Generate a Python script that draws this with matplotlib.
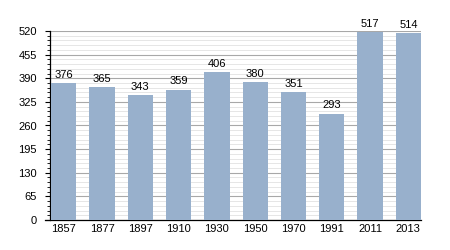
import matplotlib.pyplot as plt
import numpy as np
from matplotlib.ticker import MultipleLocator

plt.rcParams['font.family'] = ['Liberation Sans', 'DejaVu Sans']

years = ['1857', '1877', '1897', '1910', '1930', '1950', '1970', '1991', '2011', '2013']
population = [376, 365, 343, 359, 406, 380, 351, 293, 517, 514]

fig = plt.figure(figsize=(4.5, 2.5), dpi=100)
ax = fig.add_axes([50 / 450, 30 / 250, 371 / 450, 189 / 250])

x = np.arange(len(years))
bar_w = 0.66
ax.bar(x, population, width=bar_w, align='edge', color='#98b0cc', zorder=3)
for xi, v in zip(x, population):
    ax.text(xi + bar_w / 2, v + 9, str(v), ha='center', va='bottom', fontsize=8, zorder=4)

xmin, xmax = -0.03, len(years) - 1 + bar_w
ax.set_xlim(xmin, xmax)
ax.set_ylim(0, 520)
ax.set_xticks(x + bar_w / 2)
ax.set_xticklabels(years, fontsize=8)
ax.yaxis.set_major_locator(MultipleLocator(65))
ax.yaxis.set_minor_locator(MultipleLocator(13))
ax.tick_params(axis='y', labelsize=8, length=3.5, width=0.8, pad=6)
ax.tick_params(axis='y', which='minor', length=2, width=0.6)
ax.tick_params(axis='x', length=0, pad=3)
ax.grid(axis='y', which='major', color='#a8a8a8', lw=0.8, zorder=1)
ax.grid(axis='y', which='minor', color='#e2e2e2', lw=0.6, zorder=0)
for s in ['top', 'right']:
    ax.spines[s].set_visible(False)
ax.spines['left'].set_linewidth(0.9)
ax.spines['bottom'].set_linewidth(0.9)
ax.spines['bottom'].set_bounds(xmin - 0.13, xmax)

fig.savefig('out.png', dpi=100)
